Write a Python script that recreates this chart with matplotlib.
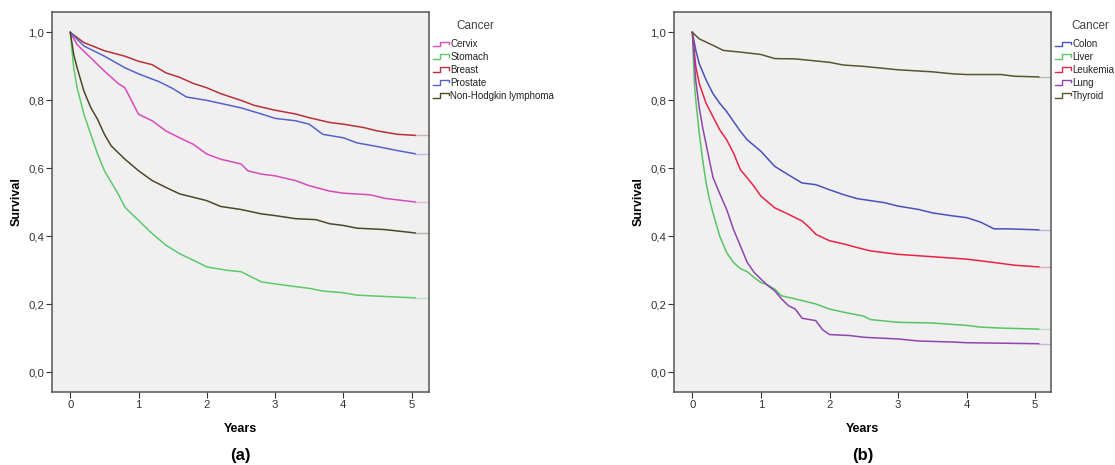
import numpy as np
import matplotlib.pyplot as plt
from matplotlib.lines import Line2D
from matplotlib.legend_handler import HandlerBase

plt.rcParams['font.family'] = ['Liberation Sans', 'DejaVu Sans']

# ---- panel (a) ----
cervix_t = [0, 0.1, 0.3, 0.5, 0.7, 0.8, 1.0, 1.2, 1.4, 1.6, 1.8, 2.0, 2.2, 2.5, 2.6, 2.8, 3.0, 3.3, 3.5, 3.8, 4.0, 4.4, 4.6, 5.05]
cervix_s = [1.0, 0.964, 0.925, 0.886, 0.85, 0.837, 0.759, 0.74, 0.71, 0.69, 0.671, 0.642, 0.627, 0.613, 0.593, 0.583, 0.578, 0.564, 0.549, 0.533, 0.527, 0.522, 0.512, 0.501]

stomach_t = [0, 0.05, 0.1, 0.15, 0.2, 0.3, 0.4, 0.5, 0.6, 0.7, 0.8, 0.9, 1.0, 1.2, 1.4, 1.6, 1.8, 2.0, 2.3, 2.5, 2.8, 3.0, 3.3, 3.5, 3.7, 4.0, 4.2, 4.5, 5.05]
stomach_s = [1.0, 0.896, 0.837, 0.798, 0.759, 0.70, 0.642, 0.593, 0.559, 0.525, 0.486, 0.466, 0.447, 0.408, 0.374, 0.349, 0.33, 0.31, 0.30, 0.296, 0.266, 0.26, 0.252, 0.247, 0.239, 0.234, 0.227, 0.224, 0.219]

breast_t = [0, 0.2, 0.5, 0.8, 1.0, 1.2, 1.4, 1.6, 1.8, 2.0, 2.2, 2.5, 2.7, 3.0, 3.3, 3.5, 3.8, 4.0, 4.3, 4.5, 4.8, 5.05]
breast_s = [1.0, 0.97, 0.946, 0.93, 0.915, 0.905, 0.881, 0.868, 0.85, 0.837, 0.82, 0.80, 0.785, 0.771, 0.76, 0.749, 0.735, 0.73, 0.72, 0.71, 0.70, 0.697]

prostate_t = [0, 0.2, 0.5, 0.8, 1.0, 1.3, 1.5, 1.7, 2.0, 2.5, 2.8, 3.0, 3.3, 3.5, 3.7, 4.0, 4.2, 4.5, 4.8, 5.05]
prostate_s = [1.0, 0.96, 0.93, 0.896, 0.878, 0.855, 0.835, 0.81, 0.80, 0.778, 0.76, 0.747, 0.74, 0.73, 0.70, 0.69, 0.675, 0.664, 0.652, 0.643]

nhl_t = [0, 0.05, 0.1, 0.2, 0.3, 0.4, 0.5, 0.6, 0.8, 1.0, 1.2, 1.4, 1.6, 2.0, 2.2, 2.5, 2.8, 3.0, 3.3, 3.6, 3.8, 4.0, 4.2, 4.6, 5.05]
nhl_s = [1.0, 0.935, 0.896, 0.827, 0.779, 0.744, 0.70, 0.666, 0.627, 0.593, 0.564, 0.544, 0.525, 0.505, 0.488, 0.479, 0.466, 0.461, 0.452, 0.449, 0.437, 0.432, 0.424, 0.42, 0.41]

# ---- panel (b) ----
colon_t = [0, 0.05, 0.1, 0.2, 0.3, 0.4, 0.5, 0.6, 0.7, 0.8, 1.0, 1.2, 1.4, 1.5, 1.6, 1.8, 2.0, 2.2, 2.4, 2.6, 2.8, 3.0, 3.3, 3.5, 3.8, 4.0, 4.2, 4.4, 4.6, 5.05]
colon_s = [1.0, 0.947, 0.908, 0.86, 0.82, 0.791, 0.767, 0.738, 0.709, 0.684, 0.65, 0.606, 0.581, 0.569, 0.557, 0.552, 0.537, 0.523, 0.511, 0.505, 0.499, 0.489, 0.479, 0.469, 0.46, 0.455, 0.442, 0.422, 0.422, 0.419]

liver_t = [0, 0.03, 0.05, 0.1, 0.15, 0.2, 0.25, 0.3, 0.4, 0.5, 0.6, 0.7, 0.8, 0.9, 1.0, 1.1, 1.2, 1.3, 1.5, 1.6, 1.8, 2.0, 2.2, 2.5, 2.6, 3.0, 3.5, 4.0, 4.2, 4.5, 5.05]
liver_s = [1.0, 0.85, 0.80, 0.703, 0.625, 0.557, 0.508, 0.469, 0.40, 0.352, 0.323, 0.305, 0.296, 0.279, 0.264, 0.257, 0.245, 0.225, 0.216, 0.211, 0.201, 0.186, 0.177, 0.165, 0.155, 0.147, 0.145, 0.138, 0.133, 0.13, 0.127]

leuk_t = [0, 0.05, 0.1, 0.2, 0.3, 0.4, 0.5, 0.6, 0.7, 0.8, 0.9, 1.0, 1.2, 1.4, 1.6, 1.7, 1.8, 2.0, 2.2, 2.4, 2.6, 3.0, 3.5, 4.0, 4.4, 4.7, 5.05]
leuk_s = [1.0, 0.899, 0.85, 0.791, 0.752, 0.713, 0.684, 0.645, 0.596, 0.572, 0.547, 0.518, 0.484, 0.465, 0.445, 0.427, 0.406, 0.387, 0.378, 0.367, 0.357, 0.347, 0.34, 0.333, 0.323, 0.315, 0.31]

lung_t = [0, 0.05, 0.1, 0.15, 0.2, 0.25, 0.3, 0.4, 0.5, 0.6, 0.7, 0.8, 0.9, 1.0, 1.1, 1.2, 1.3, 1.4, 1.5, 1.6, 1.8, 1.9, 2.0, 2.3, 2.5, 3.0, 3.3, 3.8, 4.0, 5.05]
lung_s = [1.0, 0.857, 0.779, 0.72, 0.671, 0.622, 0.574, 0.525, 0.479, 0.42, 0.372, 0.323, 0.294, 0.274, 0.255, 0.24, 0.216, 0.196, 0.186, 0.159, 0.152, 0.125, 0.111, 0.108, 0.103, 0.098, 0.092, 0.089, 0.087, 0.084]

thyroid_t = [0, 0.1, 0.3, 0.45, 0.7, 1.0, 1.2, 1.5, 2.0, 2.2, 2.5, 2.7, 3.0, 3.5, 3.8, 4.0, 4.5, 4.7, 5.05]
thyroid_s = [1.0, 0.981, 0.962, 0.947, 0.942, 0.935, 0.923, 0.922, 0.912, 0.904, 0.90, 0.896, 0.89, 0.884, 0.878, 0.876, 0.876, 0.871, 0.869]

panel_a = [("Cervix", cervix_t, cervix_s, '#d64bbb'),
           ("Stomach", stomach_t, stomach_s, '#5cc96a'),
           ("Breast", breast_t, breast_s, '#b8303a'),
           ("Prostate", prostate_t, prostate_s, '#5762c9'),
           ("Non-Hodgkin lymphoma", nhl_t, nhl_s, '#4c4828')]
panel_b = [("Colon", colon_t, colon_s, '#4852b9'),
           ("Liver", liver_t, liver_s, '#58c466'),
           ("Leukemia", leuk_t, leuk_s, '#e92348'),
           ("Lung", lung_t, lung_s, '#8e45ac'),
           ("Thyroid", thyroid_t, thyroid_s, '#58552f')]

yticks = [0.0, 0.2, 0.4, 0.6, 0.8, 1.0]
ytick_labels = ["0,0", "0,2", "0,4", "0,6", "0,8", "1,0"]
xticks = [0, 1, 2, 3, 4, 5]


class StepHandler(HandlerBase):
    def create_artists(self, legend, orig_handle, xdescent, ydescent,
                       width, height, fontsize, trans):
        x0 = -xdescent
        x1 = x0 + width
        xm = x0 + width * 0.45
        yl = -ydescent + height * 0.15
        yh = -ydescent + height * 0.85
        ym = -ydescent + height * 0.5
        ln = Line2D([x0, xm, xm, x1, x1], [yl, yl, yh, yh, ym],
                    color=orig_handle.get_color(), lw=1.0, transform=trans)
        return [ln]


fig = plt.figure(figsize=(11.15, 4.65), dpi=100)
ax_a = fig.add_axes([52 / 1115, 73 / 465, 377 / 1115, 380 / 465])
ax_b = fig.add_axes([674 / 1115, 73 / 465, 377 / 1115, 380 / 465])

for ax, series, xmax, tag, title_x in [(ax_a, panel_a, 5.255, "(a)", 1.122),
                                       (ax_b, panel_b, 5.23, "(b)", 1.103)]:
    ax.set_facecolor('#f0f0f0')
    handles = []
    for name, t, s, c in series:
        h, = ax.plot(t, s, color=c, lw=1.1, label=name)
        ax.plot([t[-1], xmax], [s[-1], s[-1]], color=c, lw=1.0, alpha=0.35)
        handles.append(h)
    ax.set_xlim(-0.268, xmax)
    ax.set_ylim(-0.058, 1.06)
    ax.set_yticks(yticks)
    ax.set_yticklabels(ytick_labels)
    ax.set_xticks(xticks)
    ax.tick_params(direction='out', length=4, width=0.8, labelsize=8.2,
                   colors='#333333', pad=1.5)
    for sp in ax.spines.values():
        sp.set_color('#555555')
        sp.set_linewidth(1.1)
    ax.set_xlabel("Years", fontsize=9, fontweight='bold', labelpad=9.5)
    ax.set_ylabel("Survival", fontsize=9, fontweight='bold', labelpad=4)
    leg = ax.legend(handles=handles, loc='upper left', bbox_to_anchor=(1.01, 0.928),
                    frameon=False, fontsize=7.0, handlelength=1.7,
                    handletextpad=0.1, labelspacing=0.29, borderaxespad=0.0,
                    borderpad=0.0, handler_map={Line2D: StepHandler()})
    for txt in leg.get_texts():
        txt.set_color('#222222')
    ax.text(title_x, 0.962, "Cancer", transform=ax.transAxes, fontsize=8.5,
            color='#444444', ha='center', va='center')
    ax.text(0.5, -0.166, tag, transform=ax.transAxes, fontsize=12,
            fontweight='bold', ha='center', va='center')

fig.savefig("out.png", dpi=100)
